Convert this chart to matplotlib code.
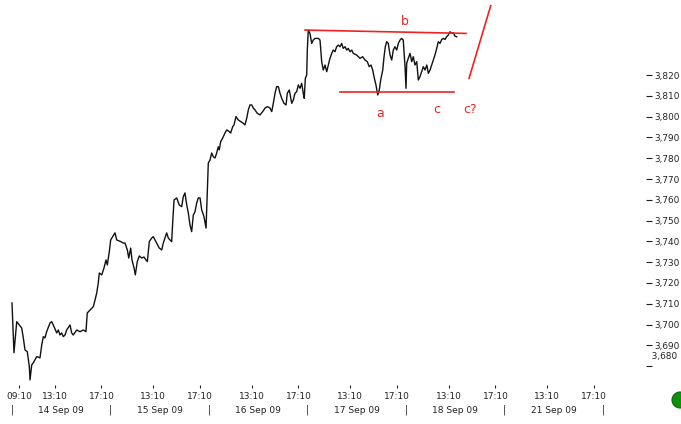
import matplotlib
matplotlib.use("Agg")
import matplotlib.pyplot as plt
from matplotlib.patches import Ellipse

# ---- data (x in trading-day units, day 0 = 14 Sep 09) ----
pos = [0.000, 0.020, 0.048, 0.098, 0.115, 0.132, 0.155, 0.176, 0.183, 0.200,
       0.216, 0.251, 0.284, 0.302, 0.318, 0.335, 0.352, 0.386, 0.403, 0.421,
       0.454, 0.470, 0.487, 0.504, 0.521, 0.538, 0.555, 0.589, 0.606, 0.622,
       0.657, 0.690, 0.724, 0.751, 0.764, 0.792, 0.825, 0.843, 0.860, 0.876,
       0.886, 0.911, 0.934, 0.954, 0.968, 0.988, 1.002, 1.022, 1.046, 1.063,
       1.104, 1.130, 1.147, 1.171, 1.185, 1.205, 1.218, 1.239, 1.252, 1.272,
       1.292, 1.317, 1.340, 1.360, 1.374, 1.394, 1.418, 1.434, 1.469, 1.495,
       1.520, 1.536, 1.553, 1.570, 1.587, 1.604, 1.621, 1.631, 1.645, 1.672,
       1.698, 1.723, 1.739, 1.756, 1.774, 1.790, 1.807, 1.824, 1.841, 1.858,
       1.875, 1.891, 1.909, 1.926, 1.949, 1.970, 1.983, 1.993, 2.010, 2.027,
       2.044, 2.061, 2.078, 2.094, 2.104, 2.119, 2.139, 2.162, 2.180, 2.206,
       2.220, 2.241, 2.254, 2.274, 2.297, 2.322, 2.348, 2.365, 2.383, 2.399,
       2.416, 2.434, 2.450, 2.467, 2.490, 2.518, 2.545, 2.569, 2.592, 2.619,
       2.637, 2.653, 2.670, 2.687, 2.704, 2.721, 2.738, 2.761, 2.782, 2.795,
       2.815, 2.840, 2.856, 2.873, 2.890, 2.907, 2.924, 2.941, 2.957, 2.967,
       2.978, 2.992, 2.998, 3.008, 3.025, 3.043, 3.059, 3.076, 3.110, 3.127,
       3.144, 3.160, 3.178, 3.195, 3.211, 3.228, 3.246, 3.262, 3.279, 3.296,
       3.313, 3.330, 3.347, 3.363, 3.381, 3.398, 3.414, 3.431, 3.449, 3.465,
       3.499, 3.533, 3.560, 3.584, 3.607, 3.627, 3.645, 3.662, 3.675, 3.695,
       3.713, 3.729, 3.743, 3.764, 3.777, 3.790, 3.804, 3.820, 3.838, 3.855,
       3.871, 3.888, 3.906, 3.922, 3.939, 3.956, 3.972, 3.990, 4.000, 4.007,
       4.023, 4.041, 4.058, 4.074, 4.091, 4.109, 4.125, 4.142, 4.159, 4.176,
       4.193, 4.211, 4.227, 4.244, 4.261, 4.277, 4.294, 4.312, 4.328, 4.345,
       4.363, 4.379, 4.396, 4.413, 4.429, 4.447, 4.464, 4.480, 4.497, 4.515]
price = [3710.4, 3686.5, 3701.4, 3698.4, 3693.6, 3687.8, 3687.0, 3679.8, 3673.4, 3680.6,
         3681.6, 3684.6, 3684.0, 3690.2, 3694.2, 3693.6, 3696.6, 3700.8, 3701.4, 3699.6,
         3696.0, 3697.4, 3695.0, 3696.0, 3694.2, 3695.0, 3697.4, 3699.8, 3696.0, 3695.0,
         3697.4, 3696.6, 3697.4, 3696.6, 3705.6, 3707.0, 3708.6, 3711.8, 3715.2, 3720.0,
         3724.8, 3723.9, 3727.2, 3731.1, 3728.7, 3735.1, 3740.7, 3742.3, 3744.1, 3740.7,
         3739.9, 3739.2, 3739.2, 3735.9, 3732.0, 3736.8, 3731.1, 3727.2, 3723.9, 3730.3,
         3733.0, 3732.0, 3732.5, 3731.1, 3730.3, 3739.9, 3741.6, 3742.3, 3739.2, 3736.8,
         3735.9, 3739.2, 3741.6, 3744.1, 3741.6, 3740.7, 3739.9, 3748.8, 3759.9, 3760.9,
         3757.5, 3756.7, 3761.5, 3763.3, 3757.5, 3753.7, 3747.9, 3744.7, 3752.7, 3754.3,
         3758.5, 3760.9, 3760.9, 3755.1, 3751.9, 3746.4, 3763.3, 3777.7, 3779.1, 3782.5,
         3780.7, 3780.1, 3782.5, 3785.5, 3784.0, 3788.0, 3789.7, 3792.1, 3793.6, 3792.8,
         3792.1, 3795.2, 3796.0, 3800.0, 3798.4, 3797.6, 3796.8, 3796.0, 3799.2, 3803.2,
         3805.6, 3805.6, 3804.1, 3803.2, 3801.6, 3800.8, 3802.4, 3804.1, 3804.8, 3804.1,
         3802.4, 3806.4, 3811.2, 3814.4, 3814.4, 3811.2, 3808.8, 3806.4, 3805.6, 3811.2,
         3812.8, 3806.4, 3808.0, 3811.2, 3812.0, 3815.2, 3813.6, 3816.0, 3811.2, 3808.8,
         3818.4, 3820.0, 3832.0, 3841.6, 3840.0, 3835.2, 3836.8, 3837.6, 3837.6, 3836.8,
         3826.4, 3822.4, 3824.8, 3821.6, 3824.8, 3828.0, 3830.4, 3832.0, 3831.2, 3833.6,
         3834.4, 3833.6, 3835.2, 3832.8, 3833.6, 3832.0, 3832.8, 3831.2, 3832.0, 3830.4,
         3829.6, 3828.0, 3828.8, 3827.2, 3826.4, 3824.0, 3824.8, 3822.4, 3819.2, 3815.2,
         3810.4, 3812.8, 3817.6, 3822.4, 3828.8, 3833.6, 3836.0, 3835.2, 3829.6, 3827.2,
         3832.0, 3833.6, 3832.0, 3835.2, 3836.8, 3837.6, 3836.8, 3824.0, 3813.6, 3825.6,
         3828.0, 3830.4, 3826.4, 3828.8, 3824.8, 3826.4, 3817.6, 3819.2, 3821.6, 3824.0,
         3822.4, 3824.8, 3820.8, 3822.4, 3824.8, 3827.2, 3829.6, 3832.8, 3836.0, 3835.2,
         3837.1, 3837.6, 3837.1, 3838.4, 3839.2, 3840.8, 3840.0, 3840.3, 3838.7, 3838.4]

# annotation lines (wave count)
b_line_x = [2.975, 4.609]
b_line_y = [3841.6, 3840.0]
low_line_x = [3.330, 4.487]
low_line_y = [3811.7, 3811.7]
proj_x = [4.64, 4.86]
proj_y = [3818.4, 3853.3]
wave_labels = ["b", "a", "c", "c?"]
wave_label_x = [3.990, 3.736, 4.315, 4.650]
wave_label_y = [3845.5, 3801.7, 3803.2, 3803.2]

# axis labels
y_ticks = [3690, 3700, 3710, 3720, 3730, 3740, 3750, 3760, 3770, 3780, 3790, 3800, 3810, 3820]
time_tick_pos = [0.071, 0.435, 0.908, 1.435, 1.908, 2.435, 2.908, 3.435, 3.908,
                 4.435, 4.908, 5.435, 5.908]
time_tick_lab = ["09:10", "13:10", "17:10", "13:10", "17:10", "13:10", "17:10",
                 "13:10", "17:10", "13:10", "17:10", "13:10", "17:10"]
day_labels = ["14 Sep 09", "15 Sep 09", "16 Sep 09", "17 Sep 09", "18 Sep 09", "21 Sep 09"]
day_bounds = [0, 1, 2, 3, 4, 5, 6]

plt.rcParams['font.family'] = ['DejaVu Sans']
W, H = 681, 424
fig = plt.figure(figsize=(W / 100, H / 100), dpi=100)
ax = fig.add_axes([0, 1 - 385 / H, 646 / W, 385 / H])
ax.set_xlim(-0.1218, 6.4365)
ax.set_ylim(3670.96, 3856.06)
for s in ax.spines.values():
    s.set_visible(False)

ax.plot(pos, price, color="#111111", lw=1.0)

red = "#ee2222"
ax.plot(b_line_x, b_line_y, color=red, lw=1.2)
ax.plot(low_line_x, low_line_y, color=red, lw=1.2)
ax.plot(proj_x, proj_y, color=red, lw=1.2, clip_on=False)
for t, x, y in zip(wave_labels, wave_label_x, wave_label_y):
    ax.text(x, y, t, color=red, fontsize=9, ha="center", va="center")

# y axis on right
ax.yaxis.tick_right()
ax.set_yticks(y_ticks + [3680])
ax.set_yticklabels([f"{v:,}" for v in y_ticks] + [""], fontsize=6.4)
ax.tick_params(axis="y", direction="out", length=4, width=0.8, pad=2, colors="#222222")
ax.text(1.0, 3684.5, "  3,680", transform=ax.get_yaxis_transform(), fontsize=6.4,
        color="#222222", ha="left", va="center", clip_on=False)

# x axis
ax.set_xticks(time_tick_pos)
ax.set_xticklabels(time_tick_lab, fontsize=6.5)
ax.tick_params(axis="x", direction="out", length=2, width=0.8, pad=3, colors="#222222")

xt = ax.get_xaxis_transform()
for i, lab in enumerate(day_labels):
    ax.text(day_bounds[i] + 0.5, -0.065, lab, transform=xt, fontsize=6.5,
            ha="center", va="center", color="#222222", clip_on=False)
for b in day_bounds:
    ax.text(b, -0.065, "|", transform=xt, fontsize=7, ha="center", va="center",
            color="#222222", clip_on=False)

fig.patches.append(Ellipse((680 / W, 1 - 400 / H), 16 / W, 16 / H,
                           transform=fig.transFigure, facecolor="#109010",
                           edgecolor="#0a6a0a", lw=0.8))

fig.savefig("out.png", dpi=100)
